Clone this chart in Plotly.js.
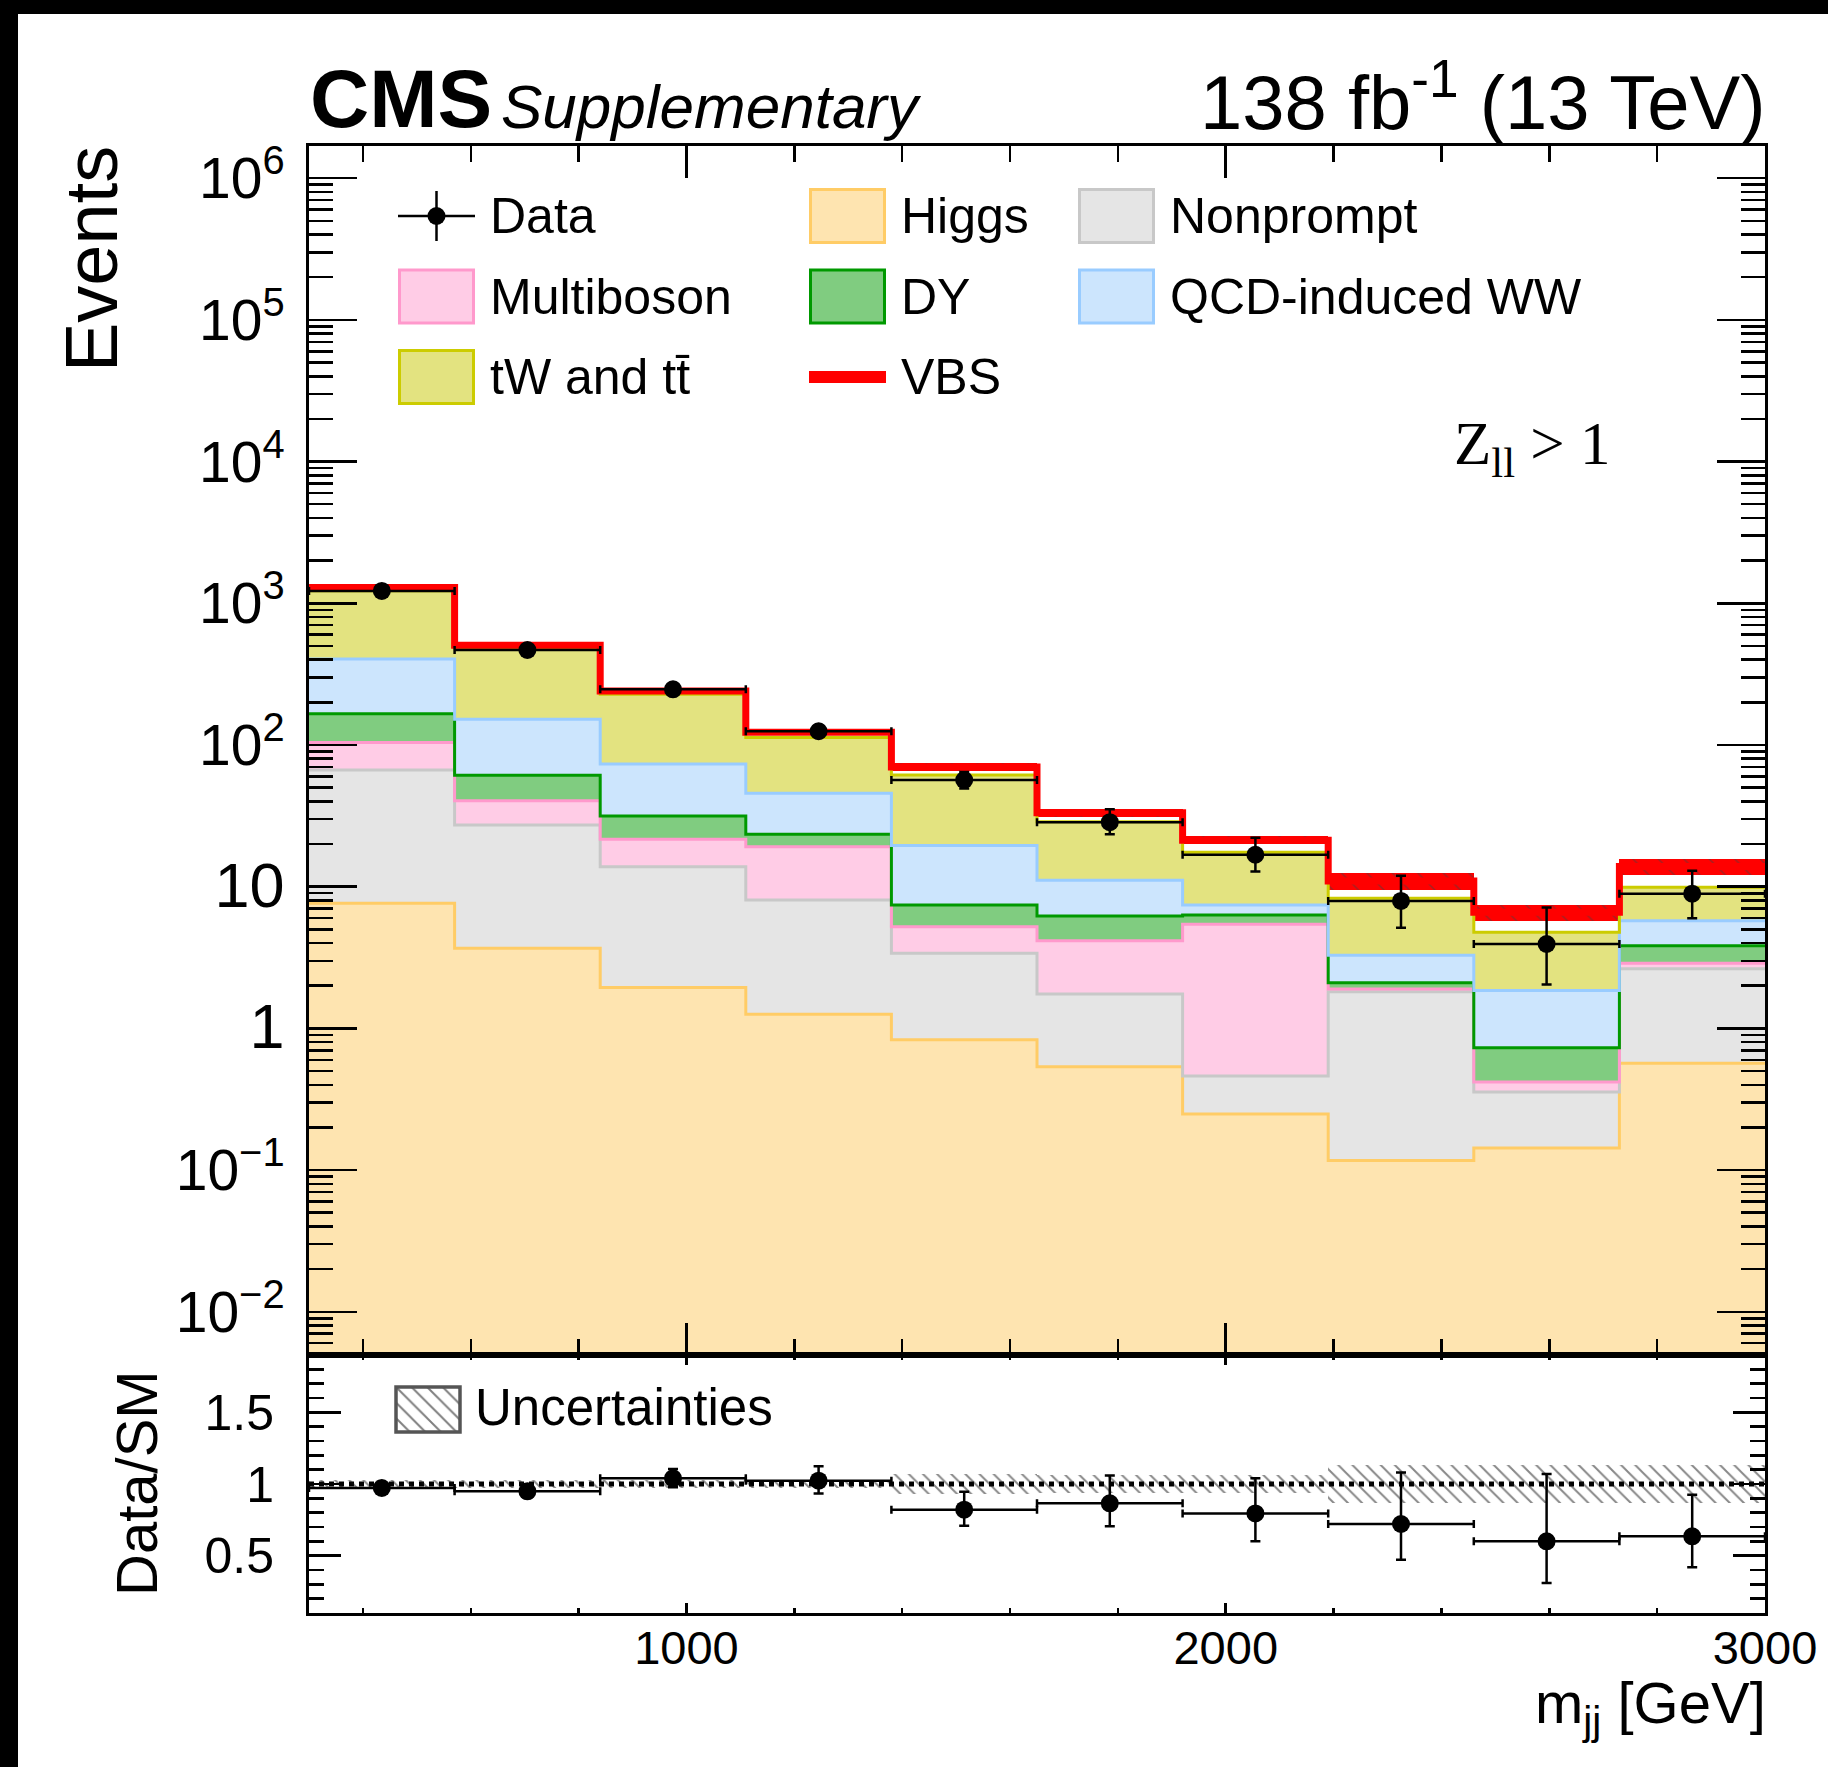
<!DOCTYPE html>
<html><head><meta charset="utf-8">
<script src="https://cdn.plot.ly/plotly-3.0.1.min.js"></script>
<style>
html,body{margin:0;padding:0;background:#000;width:1828px;height:1767px;overflow:hidden}
#plot{position:absolute;left:18px;top:14px;width:1810px;height:1753px;background:#fff}
</style></head><body><div id="plot"></div>
<script>
// ---------------- data ----------------
const binEdges   = [300, 570, 840, 1110, 1380, 1650, 1920, 2190, 2460, 2730, 3000];
const higgs      = [7.64, 3.67, 1.94, 1.26, 0.83, 0.537, 0.249, 0.117, 0.143, 0.567];
const nonprompt  = [59.0, 23.6, 11.9, 6.8, 2.56, 1.21, 0.212, 1.70, 0.213, 2.07];
const multiboson = [37.4, 13.1, 7.8, 11.1, 1.83, 2.41, 4.97, 0.08, 0.063, 0.24];
const dy         = [62, 20.7, 9.9, 4.3, 2.21, 2.05, 0.88, 0.20, 0.312, 0.95];
const qcdWW      = [239, 90.9, 41.9, 22.1, 12.1, 4.89, 1.12, 1.18, 1.12, 1.92];
const tWtt       = [820, 329, 155, 67.4, 41.9, 17.6, 10.1, 5.0, 2.92, 4.16];
const vbs        = [65, 24, 12, 10, 8.6, 4.6, 3.7, 2.7, 1.83, 4.0];
const dataY      = [1222, 468, 247, 125, 56.6, 28.5, 16.8, 7.93, 3.94, 8.93];
const dataErrUp  = [35, 22, 16, 12, 7.9, 6.7, 5.3, 4.0, 3.2, 4.0];
const dataErrDn  = [35, 21, 15, 11, 7.3, 5.1, 4.0, 2.8, 1.9, 2.95];
const relUnc     = [0.03, 0.03, 0.03, 0.03, 0.07, 0.065, 0.065, 0.13, 0.13, 0.13];
const ratioY     = [0.972, 0.949, 1.04, 1.023, 0.821, 0.865, 0.795, 0.721, 0.60, 0.635];
const ratioErrUp = [0.03, 0.046, 0.065, 0.10, 0.125, 0.195, 0.245, 0.36, 0.47, 0.29];
const ratioErrDn = [0.03, 0.044, 0.062, 0.09, 0.112, 0.16, 0.195, 0.25, 0.29, 0.215];
const yTickVals  = [1e-2, 1e-1, 1, 10, 1e2, 1e3, 1e4, 1e5, 1e6];
const yTickText  = ['10<sup>\u22122</sup>', '10<sup>\u22121</sup>',
  '<span style="font-size:63px">1</span>', '<span style="font-size:63px">10</span>',
  '10<sup>2</sup>', '10<sup>3</sup>', '10<sup>4</sup>', '10<sup>5</sup>', '10<sup>6</sup>'];
const xTickVals  = [1000, 2000, 3000];
const xTickText  = ['1000', '2000', '3000'];
const rTickVals  = [0.5, 1, 1.5];
const rTickText  = ['0.5', '1', '1.5'];

const processes = [
  {name: 'Higgs',          vals: higgs,      fill: '#fee4b0', line: '#ffcc66'},
  {name: 'Nonprompt',      vals: nonprompt,  fill: '#e5e5e5', line: '#c8c8c8'},
  {name: 'Multiboson',     vals: multiboson, fill: '#ffcce6', line: '#ff99cc'},
  {name: 'DY',             vals: dy,         fill: '#80cc80', line: '#009900'},
  {name: 'QCD-induced WW', vals: qcdWW,      fill: '#cce5fd', line: '#99ccff'},
  {name: 'tW and tt\u0304', vals: tWtt,      fill: '#e3e380', line: '#cccc00'}
];

// ---------------- derived ----------------
const nb = binEdges.length - 1;
const centers = [], halfW = [], widths = [];
for (let i = 0; i < nb; i++) {
  centers.push((binEdges[i] + binEdges[i+1]) / 2);
  widths.push(binEdges[i+1] - binEdges[i]);
  halfW.push((binEdges[i+1] - binEdges[i]) / 2);
}
const yRange = [-2.305, 6.227];
const stepY = arr => arr.concat([arr[arr.length - 1]]);

const traces = [];
let cum = new Array(nb).fill(Math.pow(10, yRange[0] - 1));
traces.push({x: binEdges, y: stepY(cum), mode: 'lines', line: {width: 0, shape: 'hv'}, hoverinfo: 'skip', xaxis: 'x', yaxis: 'y'});
cum = new Array(nb).fill(0);
processes.forEach(p => {
  cum = cum.map((c, i) => c + p.vals[i]);
  traces.push({x: binEdges, y: stepY(cum), mode: 'lines', name: p.name,
    line: {shape: 'hv', color: p.line, width: 3}, fill: 'tonexty', fillcolor: p.fill,
    xaxis: 'x', yaxis: 'y'});
});
const total = cum.map((c, i) => c + vbs[i]);
traces.push({x: binEdges, y: stepY(total), mode: 'lines', name: 'VBS',
  line: {shape: 'hv', color: '#ff0000', width: 7}, xaxis: 'x', yaxis: 'y'});

// uncertainty band main (hatched, on the red VBS line)
traces.push({type: 'bar', x: centers, width: widths,
  base: total.map((t, i) => t * (1 - relUnc[i])), y: total.map((t, i) => 2 * t * relUnc[i]),
  marker: {color: '#ff0000', line: {width: 0},
    pattern: {shape: '\\', fgcolor: '#444', bgcolor: '#ff0000', size: 18, solidity: 0.08, fillmode: 'overlay'}},
  hoverinfo: 'skip', xaxis: 'x', yaxis: 'y'});

// data
traces.push({x: centers, y: dataY, mode: 'markers', name: 'Data',
  marker: {color: '#000', size: 18},
  error_y: {type: 'data', array: dataErrUp, arrayminus: dataErrDn, symmetric: false, color: '#000', thickness: 2.5, width: 5},
  error_x: {type: 'data', array: halfW, color: '#000', thickness: 2.5, width: 4},
  xaxis: 'x', yaxis: 'y'});

// ratio band
traces.push({type: 'bar', x: centers, width: widths,
  base: relUnc.map(u => 1 - u), y: relUnc.map(u => 2 * u),
  marker: {color: 'rgba(0,0,0,0)', line: {width: 0},
    pattern: {shape: '\\', fgcolor: '#111', bgcolor: 'rgba(0,0,0,0)', size: 10, solidity: 0.2, fillmode: 'overlay'}},
  hoverinfo: 'skip', xaxis: 'x2', yaxis: 'y2'});

traces.push({x: centers, y: ratioY, mode: 'markers',
  marker: {color: '#000', size: 18},
  error_y: {type: 'data', array: ratioErrUp, arrayminus: ratioErrDn, symmetric: false, color: '#000', thickness: 2.5, width: 5},
  error_x: {type: 'data', array: halfW, color: '#000', thickness: 2.5, width: 4},
  xaxis: 'x2', yaxis: 'y2'});

// legend hatch swatch
traces.push({type: 'bar', x: [0.5], y: [1], base: [0], width: [1],
  marker: {color: 'rgba(0,0,0,0)', line: {width: 0},
    pattern: {shape: '\\', fgcolor: '#000', bgcolor: 'rgba(0,0,0,0)', size: 11, solidity: 0.18, fillmode: 'overlay'}},
  hoverinfo: 'skip', xaxis: 'x3', yaxis: 'y3'});

// ---------------- layout helpers (pixel positions of the reference) ----------------
const FL = 309, FR = 1765, FT = 146, FB = 1613, SPLIT = 1355;
const PX = X => (X - FL) / (FR - FL);
const PY = Y => (FB - Y) / (FB - FT);
const splitFrac = PY(SPLIT);

const minorX = [];
for (let v = 400; v < 3000; v += 200) if (v % 1000 !== 0) minorX.push(v);
const minorY = [];
for (let e = -3; e <= 6; e++) for (let d = 2; d <= 9; d++) minorY.push(d * Math.pow(10, e));
const minorR = [];
for (let k = 1; k <= 19; k++) { const v = k / 10; if (Math.abs(v * 2 - Math.round(v * 2)) > 1e-6) minorR.push(v); }

const FONT = 'Liberation Sans, Arial, Helvetica, sans-serif';
const axBase = {showgrid: false, zeroline: false, showline: true, linecolor: '#000', linewidth: 3,
  mirror: 'allticks', ticks: 'inside', tickcolor: '#000', tickwidth: 2.5};

const shapes = [];
const annotations = [];
function ann(text, X, Y, size, xanchor, opts) {
  annotations.push(Object.assign({text: text, xref: 'paper', yref: 'paper', x: PX(X), y: PY(Y),
    xanchor: xanchor, yanchor: 'middle', showarrow: false, borderpad: 0,
    font: {family: FONT, size: size, color: '#000'}}, opts || {}));
}
ann('<b>CMS</b>', 309, 99, 82, 'left');
ann('<i>Supplementary</i>', 500, 106, 62, 'left');
ann('138 fb<sup>-1</sup> (13 TeV)', 1767, 97, 76, 'right');
ann('Events', 92, 145, 74, 'center', {textangle: -90, yanchor: 'top'});
ann('Data/SM', 136, 1483, 58, 'center', {textangle: -90});
ann('m<sub>jj</sub> [GeV]', 1767, 1707, 58, 'right');
ann('Z<sub>ll</sub> > 1', 1453, 448, 62, 'left', {font: {family: 'Liberation Serif, Times New Roman, serif', size: 61, color: '#000'}});
ann('Uncertainties', 474, 1407, 51, 'left');

// main legend
const legCols = [398, 809, 1078];
const legRows = [216, 296.5, 377];
const boxW = 77, boxH = 56, textOff = 91;
const legendItems = [
  {label: 'Data', c: 0, r: 0, kind: 'data'},
  {label: 'Higgs', c: 1, r: 0, p: 0},
  {label: 'Nonprompt', c: 2, r: 0, p: 1},
  {label: 'Multiboson', c: 0, r: 1, p: 2},
  {label: 'DY', c: 1, r: 1, p: 3},
  {label: 'QCD-induced WW', c: 2, r: 1, p: 4},
  {label: 'tW and tt\u0304', c: 0, r: 2, p: 5},
  {label: 'VBS', c: 1, r: 2, kind: 'vbs'}
];
legendItems.forEach(it => {
  const x0 = legCols[it.c], yc = legRows[it.r];
  if (it.kind === 'data') {
    shapes.push({type: 'line', xref: 'paper', yref: 'paper', x0: PX(x0), x1: PX(x0 + boxW), y0: PY(yc), y1: PY(yc), line: {color: '#000', width: 2.5}});
    shapes.push({type: 'line', xref: 'paper', yref: 'paper', x0: PX(x0 + boxW / 2), x1: PX(x0 + boxW / 2), y0: PY(yc - 25), y1: PY(yc + 25), line: {color: '#000', width: 2.5}});
    shapes.push({type: 'circle', xref: 'paper', yref: 'paper', x0: PX(x0 + boxW / 2 - 9), x1: PX(x0 + boxW / 2 + 9), y0: PY(yc - 9), y1: PY(yc + 9), fillcolor: '#000', line: {width: 0}});
  } else if (it.kind === 'vbs') {
    shapes.push({type: 'line', xref: 'paper', yref: 'paper', x0: PX(x0), x1: PX(x0 + boxW), y0: PY(yc), y1: PY(yc), line: {color: '#ff0000', width: 12}});
  } else {
    const p = processes[it.p];
    shapes.push({type: 'rect', xref: 'paper', yref: 'paper', x0: PX(x0 + 1.5), x1: PX(x0 + boxW - 1.5), y0: PY(yc - boxH / 2 + 1.5), y1: PY(yc + boxH / 2 - 1.5), fillcolor: p.fill, line: {color: p.line, width: 3}});
  }
  ann(it.label, x0 + textOff, yc, 50, 'left');
});
// uncertainties legend box border
const uB = [396, 1387, 460, 1432];
shapes.push({type: 'rect', xref: 'paper', yref: 'paper', x0: PX(uB[0]), x1: PX(uB[2]), y0: PY(uB[3]), y1: PY(uB[1]), line: {color: '#555', width: 3.5}, fillcolor: 'rgba(0,0,0,0)'});
// ratio reference line
shapes.push({type: 'line', xref: 'x2', yref: 'y2', x0: binEdges[0], x1: binEdges[nb], y0: 1, y1: 1, line: {color: '#000', width: 5, dash: 'dot'}, layer: 'below'});

const layout = {
  width: 1810, height: 1753,
  margin: {l: FL - 18, r: 1828 - FR, t: FT - 14, b: 1767 - FB, pad: 0},
  paper_bgcolor: '#fff', plot_bgcolor: 'rgba(0,0,0,0)',
  showlegend: false, barmode: 'overlay', bargap: 0,
  font: {family: FONT, color: '#000'},
  xaxis: Object.assign({}, axBase, {domain: [0, 1], anchor: 'y', range: [binEdges[0], binEdges[nb]],
    tickvals: xTickVals, showticklabels: false, ticklen: 32,
    minor: {tickvals: minorX, ticks: 'inside', ticklen: 16, tickwidth: 2.5, tickcolor: '#000'}}),
  yaxis: Object.assign({}, axBase, {domain: [splitFrac, 1], anchor: 'x', type: 'log', range: yRange,
    tickvals: yTickVals, ticktext: yTickText, ticklen: 48, tickfont: {size: 57, family: FONT},
    ticklabelstandoff: 10,
    minor: {tickvals: minorY, ticks: 'inside', ticklen: 24, tickwidth: 2.5, tickcolor: '#000'}}),
  xaxis2: Object.assign({}, axBase, {domain: [0, 1], anchor: 'y2', range: [binEdges[0], binEdges[nb]],
    tickvals: xTickVals, ticktext: xTickText, ticklen: 10, tickfont: {size: 47, family: FONT},
    ticklabelstandoff: -8,
    minor: {tickvals: minorX, ticks: 'inside', ticklen: 5, tickwidth: 2.5, tickcolor: '#000'}}),
  yaxis2: Object.assign({}, axBase, {domain: [0, splitFrac], anchor: 'x2', range: [0.1, 1.9],
    tickvals: rTickVals, ticktext: rTickText, ticklen: 32, tickfont: {size: 50, family: FONT},
    ticklabelstandoff: 22,
    minor: {tickvals: minorR, ticks: 'inside', ticklen: 15, tickwidth: 2.5, tickcolor: '#000'}}),
  xaxis3: {domain: [PX(uB[0]), PX(uB[2])], anchor: 'y3', range: [0, 1], visible: false, fixedrange: true},
  yaxis3: {domain: [PY(uB[3]), PY(uB[1])], anchor: 'x3', range: [0, 1], visible: false, fixedrange: true},
  shapes: shapes,
  annotations: annotations
};

Plotly.newPlot('plot', traces, layout, {staticPlot: true, displayModeBar: false});
</script></body></html>
